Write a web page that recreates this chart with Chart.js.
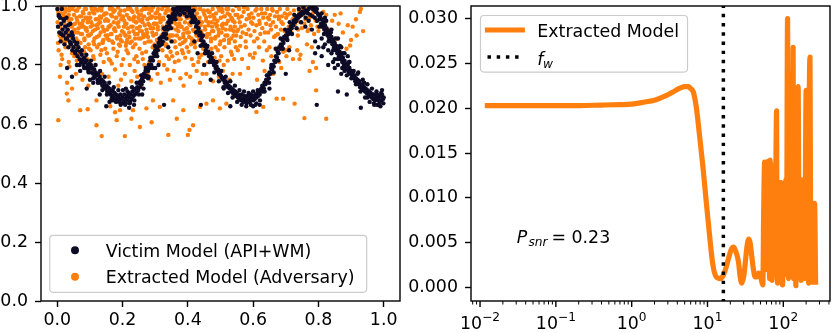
<!DOCTYPE html>
<html>
<head>
<meta charset="utf-8">
<script src="https://cdn.jsdelivr.net/npm/chart.js@4.4.1/dist/chart.umd.min.js"></script>
<style>
  html, body { margin: 0; padding: 0; background: #fff; }
  #wrap { position: relative; width: 831px; height: 333px; overflow: hidden; }
  #left { position: absolute; left: 0; top: 0; }
  #right { position: absolute; left: 400px; top: 0; }
</style>
</head>
<body>
<div id="wrap">
  <canvas id="left" width="420" height="333"></canvas>
  <canvas id="right" width="431" height="333"></canvas>
</div>
<script>
// left panel: scatter of model outputs
const victimPoints = [
  [0,0.99],[0.002,0.93],[0.004,0.97],[0.006,0.91],[0.008,0.96],[0.01,0.88],[0.012,0.94],[0.014,0.99],[0.016,0.92],[0.018,0.9],
  [0.02,0.95],[0.022,0.87],[0.024,0.93],[0.026,0.91],[0.028,0.96],[0.03,0.89],[0.032,0.92],[0.034,0.86],[0.036,0.9],[0.038,0.88],
  [0.04,0.94],[0.042,0.87],[0.044,0.91],[0.046,0.85],[0.048,0.89],[0.05,0.86],[0.052,0.88],[0.055,0.84],[0.058,0.87],[0.06,0.85],
  [0.062,0.83],[0.065,0.86],[0.068,0.82],[0.07,0.845],[0.073,0.81],[0.075,0.835],[0.078,0.82],[0.08,0.8],[0.083,0.825],[0.085,0.81],
  [0.088,0.79],[0.09,0.815],[0.093,0.8],[0.095,0.78],[0.098,0.805],[0.03,0.79],[0.045,0.76],[0.07,0.78],[0.09,0.72],[0.1,0.75],[0.06,0.8],
  [0.1,0.79],[0.103,0.8],[0.105,0.775],[0.108,0.79],[0.11,0.77],[0.113,0.785],[0.115,0.76],[0.118,0.775],[0.12,0.765],[0.123,0.75],
  [0.125,0.77],[0.128,0.745],[0.13,0.76],[0.133,0.74],[0.135,0.75],[0.138,0.73],[0.14,0.745],[0.143,0.725],[0.145,0.74],[0.148,0.72],
  [0.15,0.73],[0.153,0.71],[0.155,0.725],[0.158,0.705],[0.16,0.72],[0.163,0.7],[0.165,0.71],[0.168,0.695],[0.17,0.715],[0.173,0.69],
  [0.175,0.705],[0.178,0.685],[0.18,0.7],[0.183,0.68],[0.185,0.695],[0.188,0.69],[0.19,0.675],[0.193,0.7],[0.195,0.685],[0.198,0.67],
  [0.15,0.66],[0.17,0.68],[0.13,0.7],[0.11,0.74],[0.16,0.675],
  [0.2,0.69],[0.203,0.675],[0.205,0.7],[0.208,0.685],[0.21,0.67],[0.213,0.695],[0.215,0.68],[0.218,0.705],[0.22,0.69],[0.223,0.675],
  [0.225,0.7],[0.228,0.685],[0.23,0.71],[0.233,0.695],[0.235,0.715],[0.238,0.7],[0.24,0.72],[0.243,0.705],[0.245,0.725],[0.248,0.715],
  [0.25,0.74],[0.253,0.725],[0.255,0.745],[0.258,0.735],[0.26,0.755],[0.263,0.745],[0.265,0.77],[0.268,0.76],[0.27,0.78],[0.273,0.765],
  [0.275,0.79],[0.278,0.78],[0.28,0.8],[0.283,0.79],[0.285,0.815],[0.288,0.8],[0.29,0.825],[0.293,0.815],[0.295,0.84],[0.298,0.83],
  [0.22,0.655],[0.235,0.665],[0.26,0.7],[0.21,0.72],[0.28,0.76],
  [0.3,0.85],[0.303,0.84],[0.305,0.86],[0.308,0.85],[0.31,0.875],[0.313,0.865],[0.315,0.885],[0.318,0.87],[0.32,0.895],[0.323,0.88],
  [0.325,0.905],[0.328,0.895],[0.33,0.92],[0.333,0.905],[0.335,0.93],[0.338,0.92],[0.34,0.945],[0.343,0.935],[0.345,0.955],[0.348,0.945],
  [0.35,0.965],[0.353,0.955],[0.355,0.975],[0.358,0.965],[0.36,0.985],[0.363,0.97],[0.365,0.99],[0.368,0.98],[0.37,0.995],[0.373,0.985],
  [0.375,1.0],[0.378,0.99],[0.38,0.995],[0.385,1.0],[0.39,0.99],[0.395,0.995],
  [0.327,0.665],[0.31,0.8],[0.35,0.88],[0.3,0.79],[0.34,0.86],
  [0.4,0.985],[0.403,0.995],[0.405,0.975],[0.408,0.985],[0.41,0.965],[0.413,0.975],[0.415,0.955],[0.418,0.965],[0.42,0.945],[0.423,0.955],
  [0.425,0.93],[0.428,0.94],[0.43,0.915],[0.433,0.925],[0.435,0.9],[0.438,0.91],[0.44,0.885],[0.443,0.895],[0.445,0.87],[0.448,0.88],
  [0.45,0.865],[0.453,0.87],[0.455,0.85],[0.458,0.86],[0.46,0.84],[0.463,0.845],[0.465,0.83],[0.468,0.835],[0.47,0.82],[0.473,0.825],
  [0.475,0.81],[0.478,0.815],[0.48,0.8],[0.483,0.805],[0.485,0.79],[0.488,0.795],[0.49,0.78],[0.493,0.785],[0.495,0.77],[0.498,0.775],
  [0.44,0.665],[0.45,0.8],[0.42,0.88],[0.47,0.75],[0.43,0.84],
  [0.5,0.765],[0.503,0.76],[0.505,0.755],[0.508,0.75],[0.51,0.755],[0.513,0.74],[0.515,0.745],[0.518,0.73],[0.52,0.74],[0.523,0.725],
  [0.525,0.73],[0.528,0.72],[0.53,0.725],[0.533,0.71],[0.535,0.72],[0.538,0.705],[0.54,0.715],[0.543,0.7],[0.545,0.71],[0.548,0.695],
  [0.55,0.705],[0.553,0.69],[0.555,0.7],[0.558,0.685],[0.56,0.695],[0.563,0.68],[0.565,0.7],[0.568,0.685],[0.57,0.675],[0.573,0.695],
  [0.575,0.68],[0.578,0.69],[0.58,0.67],[0.583,0.695],[0.585,0.68],[0.588,0.69],[0.59,0.675],[0.593,0.7],[0.595,0.685],[0.598,0.69],
  [0.53,0.66],[0.51,0.72],
  [0.6,0.68],[0.603,0.695],[0.605,0.685],[0.608,0.7],[0.61,0.69],[0.613,0.705],[0.615,0.695],[0.618,0.71],[0.62,0.7],[0.623,0.715],
  [0.625,0.72],[0.628,0.71],[0.63,0.73],[0.633,0.72],[0.635,0.74],[0.638,0.735],[0.64,0.75],[0.643,0.745],[0.645,0.765],[0.648,0.755],
  [0.65,0.775],[0.653,0.77],[0.655,0.79],[0.658,0.785],[0.66,0.8],[0.663,0.795],[0.665,0.815],[0.668,0.81],[0.67,0.83],[0.673,0.825],
  [0.675,0.845],[0.678,0.84],[0.68,0.86],[0.683,0.855],[0.685,0.87],[0.688,0.865],[0.69,0.885],[0.693,0.875],[0.695,0.895],[0.698,0.89],
  [0.62,0.665],[0.6,0.66],[0.61,0.67],[0.65,0.72],[0.7,0.77],
  [0.7,0.9],[0.703,0.895],[0.705,0.91],[0.708,0.905],[0.71,0.92],[0.713,0.915],[0.715,0.93],[0.718,0.925],[0.72,0.94],[0.723,0.935],
  [0.725,0.95],[0.728,0.945],[0.73,0.955],[0.733,0.95],[0.735,0.965],[0.738,0.96],[0.74,0.97],[0.743,0.965],[0.745,0.975],[0.748,0.97],
  [0.75,0.98],[0.755,0.975],[0.76,0.985],[0.765,0.98],[0.77,0.99],[0.775,0.995],[0.78,1.0],[0.783,0.99],[0.785,1.0],[0.788,0.985],
  [0.79,0.995],[0.793,0.98],[0.795,0.99],[0.798,0.975],
  [0.71,0.85],[0.76,0.93],[0.78,0.92],[0.79,0.88],[0.77,0.95],[0.795,0.665],[0.79,0.84],[0.8,0.86],
  [0.8,0.97],[0.803,0.955],[0.805,0.965],[0.808,0.94],[0.81,0.955],[0.813,0.93],[0.815,0.945],[0.818,0.92],[0.82,0.935],[0.823,0.91],
  [0.825,0.925],[0.828,0.9],[0.83,0.915],[0.833,0.89],[0.835,0.905],[0.838,0.88],[0.84,0.895],[0.843,0.87],[0.845,0.885],[0.848,0.86],
  [0.85,0.875],[0.853,0.85],[0.855,0.865],[0.858,0.84],[0.86,0.855],[0.863,0.83],[0.865,0.845],[0.868,0.82],[0.87,0.835],[0.873,0.81],
  [0.875,0.825],[0.878,0.8],[0.88,0.815],[0.883,0.79],[0.885,0.805],[0.888,0.785],[0.89,0.8],[0.893,0.775],[0.895,0.79],[0.898,0.77],
  [0.81,0.89],[0.82,0.87],[0.83,0.85],[0.84,0.84],[0.85,0.82],[0.86,0.8],[0.87,0.86],[0.88,0.78],[0.89,0.83],[0.82,0.96],
  [0.84,0.92],[0.86,0.89],[0.83,0.8],[0.81,0.83],[0.85,0.79],[0.87,0.77],[0.815,0.86],[0.845,0.81],[0.875,0.84],[0.895,0.81],
  [0.86,0.71],[0.887,0.7],
  [0.9,0.78],[0.903,0.765],[0.905,0.775],[0.908,0.755],[0.91,0.765],[0.913,0.745],[0.915,0.755],[0.918,0.74],[0.92,0.75],[0.923,0.735],
  [0.925,0.745],[0.928,0.725],[0.93,0.735],[0.933,0.72],[0.935,0.73],[0.938,0.715],[0.94,0.725],[0.943,0.71],[0.945,0.72],[0.948,0.705],
  [0.95,0.715],[0.953,0.7],[0.955,0.71],[0.958,0.695],[0.96,0.705],[0.963,0.69],[0.965,0.7],[0.968,0.685],[0.97,0.7],[0.973,0.68],
  [0.975,0.695],[0.978,0.685],[0.98,0.7],[0.983,0.68],[0.985,0.69],[0.988,0.675],[0.99,0.695],[0.993,0.68],[0.995,0.7],[0.998,0.685],
  [1.0,0.69],[0.93,0.655],[0.98,0.665],[0.99,0.66],[0.97,0.67],[0.95,0.69],[0.995,0.715],[0.92,0.77],[0.94,0.74],
  // looser band around the curve
  [0.005,0.965],[0.012,0.905],[0.019,0.955],[0.026,0.89],[0.033,0.935],[0.04,0.875],[0.047,0.9],[0.054,0.845],[0.061,0.875],[0.068,0.8],
  [0.075,0.85],[0.082,0.79],[0.089,0.835],[0.096,0.775],[0.103,0.815],[0.11,0.755],[0.117,0.8],[0.124,0.74],[0.131,0.78],[0.138,0.715],
  [0.145,0.76],[0.152,0.7],[0.159,0.74],[0.166,0.685],[0.173,0.725],[0.18,0.675],[0.187,0.715],[0.194,0.665],[0.201,0.715],[0.208,0.665],
  [0.215,0.71],[0.222,0.67],[0.229,0.725],[0.236,0.68],[0.243,0.74],[0.25,0.7],[0.257,0.765],[0.264,0.72],[0.271,0.79],[0.278,0.755],
  [0.285,0.825],[0.292,0.79],[0.299,0.865],[0.306,0.83],[0.313,0.89],[0.32,0.87],[0.327,0.925],[0.334,0.89],[0.341,0.965],[0.348,0.925],
  [0.355,0.99],[0.362,0.955],[0.369,0.995],[0.376,0.97],[0.383,0.98],[0.39,0.975],[0.397,0.965],[0.404,0.995],[0.411,0.945],[0.418,0.985],
  [0.425,0.91],[0.432,0.945],[0.439,0.865],[0.446,0.9],[0.453,0.84],[0.46,0.865],[0.467,0.81],[0.474,0.84],[0.481,0.775],[0.488,0.81],
  [0.495,0.745],[0.502,0.78],[0.509,0.725],[0.516,0.76],[0.523,0.705],[0.53,0.745],[0.537,0.69],[0.544,0.73],[0.551,0.675],[0.558,0.715],
  [0.565,0.665],[0.572,0.71],[0.579,0.66],[0.586,0.705],[0.593,0.665],[0.6,0.71],[0.607,0.665],[0.614,0.715],[0.621,0.68],[0.628,0.73],
  [0.635,0.71],[0.642,0.765],[0.649,0.74],[0.656,0.8],[0.663,0.775],[0.67,0.855],[0.677,0.815],[0.684,0.89],[0.691,0.855],[0.698,0.92],
  [0.705,0.885],[0.712,0.945],[0.719,0.905],[0.726,0.97],[0.733,0.925],[0.74,0.99],[0.747,0.945],[0.754,0.995],[0.761,0.96],[0.768,0.975],
  [0.775,0.97],[0.782,0.965],[0.789,0.96],[0.796,0.95],[0.803,0.93],[0.81,0.975],[0.817,0.905],[0.824,0.95],[0.831,0.88],[0.838,0.91],
  [0.845,0.85],[0.852,0.89],[0.859,0.82],[0.866,0.865],[0.873,0.79],[0.88,0.84],[0.887,0.765],[0.894,0.81],[0.901,0.755],[0.908,0.78],
  [0.915,0.735],[0.922,0.775],[0.929,0.71],[0.936,0.75],[0.943,0.69],[0.95,0.735],[0.957,0.675],[0.964,0.72],[0.971,0.665],[0.978,0.71],
  [0.985,0.665],[0.992,0.705],[0.999,0.67]
];

const extractedPoints = [
  [0.003,0.98],[0.006,0.93],[0.009,0.96],[0.011,0.89],[0.014,0.995],[0.016,0.91],[0.019,0.97],[0.021,0.94],[0.024,0.88],[0.026,0.99],
  [0.029,0.92],[0.031,0.965],[0.033,0.9],[0.036,0.985],[0.038,0.935],[0.041,0.875],[0.043,0.955],[0.046,0.99],[0.048,0.915],[0.001,0.945],
  [0.012,0.975],[0.022,0.905],[0.034,0.95],[0.044,0.93],[0.018,0.88],[0.027,0.96],[0.039,0.995],[0.007,0.9],
  [0.004,0.85],[0.015,0.82],[0.025,0.86],[0.035,0.81],[0.045,0.84],[0.01,0.8],[0.04,0.865],[0.008,0.76],[0.03,0.74],[0.045,0.72],
  [0.029,0.703],[0.003,0.613],[0.034,0.68],
  [0.051,0.97],[0.053,0.92],[0.056,0.985],[0.058,0.89],[0.061,0.95],[0.063,0.91],[0.066,0.995],[0.068,0.94],[0.071,0.875],[0.073,0.965],
  [0.076,0.905],[0.078,0.98],[0.081,0.93],[0.083,0.885],[0.086,0.96],[0.088,0.99],[0.091,0.915],[0.093,0.945],[0.096,0.87],[0.098,0.975],
  [0.054,0.94],[0.064,0.88],[0.074,0.93],[0.084,0.99],[0.094,0.9],[0.059,0.96],[0.079,0.95],[0.089,0.925],
  [0.052,0.83],[0.062,0.86],[0.072,0.81],[0.082,0.845],[0.092,0.82],[0.097,0.855],[0.067,0.84],[0.057,0.77],[0.077,0.75],[0.087,0.79],
  [0.095,0.73],[0.07,0.647],[0.093,0.65],
  [0.101,0.96],[0.103,0.905],[0.106,0.99],[0.108,0.935],[0.111,0.88],[0.113,0.975],[0.116,0.92],[0.118,0.955],[0.121,0.895],[0.123,0.985],
  [0.126,0.94],[0.128,0.87],[0.131,0.965],[0.133,0.91],[0.136,0.995],[0.138,0.93],[0.141,0.885],[0.143,0.97],[0.146,0.95],[0.148,0.9],
  [0.104,0.945],[0.114,0.89],[0.124,0.925],[0.134,0.96],[0.144,0.915],[0.109,0.98],[0.129,0.99],[0.139,0.875],
  [0.102,0.85],[0.112,0.82],[0.122,0.86],[0.132,0.835],[0.142,0.81],[0.147,0.855],[0.117,0.8],[0.107,0.78],[0.127,0.74],[0.137,0.77],
  [0.145,0.72],[0.12,0.596],[0.136,0.559],[0.12,0.68],
  [0.151,0.975],[0.153,0.92],[0.156,0.95],[0.158,0.885],[0.161,0.99],[0.163,0.935],[0.166,0.905],[0.168,0.965],[0.171,0.875],[0.173,0.945],
  [0.176,0.985],[0.178,0.915],[0.181,0.96],[0.183,0.89],[0.186,0.995],[0.188,0.93],[0.191,0.97],[0.193,0.9],[0.196,0.955],[0.198,0.88],
  [0.154,0.9],[0.164,0.97],[0.174,0.92],[0.184,0.94],[0.194,0.985],[0.159,0.93],[0.169,0.99],[0.189,0.87],
  [0.152,0.84],[0.162,0.815],[0.172,0.855],[0.182,0.83],[0.192,0.865],[0.197,0.8],[0.167,0.805],[0.157,0.76],[0.177,0.785],[0.187,0.73],
  [0.195,0.75],[0.162,0.66],[0.177,0.64],[0.182,0.613],[0.192,0.647],
  [0.201,0.96],[0.203,0.91],[0.206,0.985],[0.208,0.94],[0.211,0.875],[0.213,0.97],[0.216,0.925],[0.218,0.995],[0.221,0.895],[0.223,0.955],
  [0.226,0.93],[0.228,0.88],[0.231,0.98],[0.233,0.915],[0.236,0.965],[0.238,0.89],[0.241,0.945],[0.243,0.99],[0.246,0.905],[0.248,0.96],
  [0.204,0.93],[0.214,0.885],[0.224,0.99],[0.234,0.95],[0.244,0.925],[0.209,0.9],[0.219,0.96],[0.239,0.87],
  [0.202,0.82],[0.212,0.85],[0.222,0.8],[0.232,0.86],[0.242,0.83],[0.247,0.81],[0.217,0.84],[0.207,0.77],[0.227,0.745],[0.237,0.78],
  [0.245,0.76],[0.207,0.559],[0.227,0.618],[0.232,0.647],
  [0.251,0.97],[0.253,0.93],[0.256,0.89],[0.258,0.985],[0.261,0.945],[0.263,0.905],[0.266,0.965],[0.268,0.875],[0.271,0.99],[0.273,0.92],
  [0.276,0.955],[0.278,0.895],[0.281,0.975],[0.283,0.935],[0.286,0.88],[0.288,0.96],[0.291,0.91],[0.293,0.995],[0.296,0.94],[0.298,0.87],
  [0.254,0.95],[0.264,0.99],[0.274,0.9],[0.284,0.96],[0.294,0.925],[0.259,0.915],[0.279,0.94],[0.289,0.985],
  [0.252,0.855],[0.262,0.82],[0.272,0.845],[0.282,0.81],[0.292,0.86],[0.297,0.83],[0.267,0.8],[0.257,0.73],[0.277,0.77],[0.287,0.75],
  [0.295,0.79],[0.253,0.59],[0.273,0.653],[0.289,0.606],[0.293,0.68],
  [0.301,0.96],[0.303,0.905],[0.306,0.98],[0.308,0.93],[0.311,0.885],[0.313,0.97],[0.316,0.945],[0.318,0.895],[0.321,0.99],[0.323,0.92],
  [0.326,0.955],[0.328,0.875],[0.331,0.975],[0.333,0.91],[0.336,0.94],[0.338,0.995],[0.341,0.89],[0.343,0.965],[0.346,0.925],[0.348,0.985],
  [0.304,0.94],[0.314,0.87],[0.324,0.96],[0.334,0.985],[0.344,0.9],[0.309,0.99],[0.319,0.955],[0.339,0.935],
  [0.302,0.84],[0.312,0.81],[0.322,0.85],[0.332,0.865],[0.342,0.82],[0.347,0.845],[0.327,0.8],[0.307,0.77],[0.317,0.74],[0.337,0.785],
  [0.345,0.75],[0.314,0.658],[0.34,0.563],
  [0.351,0.975],[0.353,0.925],[0.356,0.95],[0.358,0.88],[0.361,0.99],[0.363,0.94],[0.366,0.9],[0.368,0.965],[0.371,0.915],[0.373,0.985],
  [0.376,0.87],[0.378,0.955],[0.381,0.93],[0.383,0.995],[0.386,0.895],[0.388,0.97],[0.391,0.945],[0.393,0.885],[0.396,0.96],[0.398,0.91],
  [0.354,0.9],[0.364,0.98],[0.374,0.94],[0.384,0.875],[0.394,0.99],[0.359,0.96],[0.369,0.93],[0.389,0.92],
  [0.352,0.83],[0.362,0.86],[0.372,0.815],[0.382,0.85],[0.392,0.825],[0.397,0.86],[0.367,0.84],[0.357,0.78],[0.377,0.755],[0.387,0.73],
  [0.395,0.77],[0.355,0.68],[0.366,0.618],[0.386,0.647],[0.4,0.563],
  [0.401,0.965],[0.403,0.91],[0.406,0.985],[0.408,0.935],[0.411,0.89],[0.413,0.96],[0.416,0.92],[0.418,0.995],[0.421,0.875],[0.423,0.95],
  [0.426,0.9],[0.428,0.975],[0.431,0.93],[0.433,0.885],[0.436,0.96],[0.438,0.99],[0.441,0.915],[0.443,0.945],[0.446,0.87],[0.448,0.98],
  [0.404,0.94],[0.414,0.88],[0.424,0.99],[0.434,0.95],[0.444,0.9],[0.409,0.97],[0.429,0.905],[0.439,0.935],
  [0.402,0.845],[0.412,0.82],[0.422,0.86],[0.432,0.81],[0.442,0.835],[0.447,0.855],[0.417,0.8],[0.407,0.76],[0.427,0.78],[0.437,0.74],
  [0.445,0.77],[0.405,0.58],[0.416,0.596],[0.437,0.658],
  [0.451,0.97],[0.453,0.92],[0.456,0.95],[0.458,0.895],[0.461,0.985],[0.463,0.935],[0.466,0.905],[0.468,0.965],[0.471,0.88],[0.473,0.945],
  [0.476,0.99],[0.478,0.915],[0.481,0.96],[0.483,0.89],[0.486,0.975],[0.488,0.93],[0.491,0.95],[0.493,0.9],[0.496,0.985],[0.498,0.87],
  [0.454,0.9],[0.464,0.98],[0.474,0.93],[0.484,0.94],[0.494,0.92],
  [0.452,0.84],[0.462,0.81],[0.472,0.855],[0.482,0.825],[0.492,0.85],[0.497,0.815],[0.457,0.77],[0.477,0.745],[0.487,0.79],[0.495,0.76],
  [0.457,0.669],[0.477,0.68],[0.498,0.653],
  [0.501,0.96],[0.503,0.91],[0.506,0.98],[0.508,0.94],[0.511,0.885],[0.513,0.965],[0.516,0.92],[0.518,0.99],[0.521,0.9],[0.523,0.95],
  [0.526,0.875],[0.528,0.97],[0.531,0.93],[0.533,0.89],[0.536,0.955],[0.538,0.985],[0.541,0.915],[0.543,0.945],[0.546,0.97],[0.548,0.9],
  [0.504,0.935],[0.524,0.99],[0.534,0.92],[0.544,0.88],
  [0.502,0.83],[0.512,0.86],[0.522,0.815],[0.532,0.845],[0.542,0.82],[0.547,0.86],[0.507,0.78],[0.527,0.75],[0.537,0.77],
  [0.518,0.669],[0.539,0.692],
  [0.551,0.97],[0.554,0.92],[0.557,0.99],[0.559,0.945],[0.562,0.895],[0.565,0.965],[0.568,0.91],[0.571,0.98],[0.574,0.935],[0.577,0.88],
  [0.58,0.955],[0.583,0.99],[0.586,0.92],[0.589,0.96],[0.592,0.9],[0.595,0.975],[0.598,0.94],
  [0.553,0.85],[0.566,0.82],[0.578,0.86],[0.59,0.835],[0.56,0.77],[0.585,0.79],[0.57,0.68],
  [0.601,0.96],[0.604,0.915],[0.607,0.985],[0.61,0.935],[0.613,0.89],[0.616,0.97],[0.619,0.95],[0.622,0.905],[0.625,0.99],[0.628,0.925],
  [0.631,0.96],[0.634,0.88],[0.637,0.975],[0.64,0.94],[0.643,0.99],[0.646,0.91],[0.649,0.955],
  [0.605,0.84],[0.618,0.86],[0.63,0.815],[0.642,0.85],[0.612,0.75],[0.635,0.78],[0.61,0.641],[0.631,0.658],
  [0.652,0.97],[0.655,0.92],[0.658,0.99],[0.661,0.945],[0.664,0.895],[0.667,0.965],[0.67,0.93],[0.673,0.98],[0.676,0.905],[0.679,0.955],
  [0.682,0.99],[0.685,0.92],[0.688,0.965],[0.691,0.94],[0.694,0.885],[0.697,0.975],
  [0.656,0.83],[0.668,0.855],[0.68,0.81],[0.692,0.845],[0.702,0.83],[0.662,0.77],[0.686,0.79],[0.672,0.686],[0.692,0.686],
  [0.701,0.96],[0.705,0.99],[0.709,0.93],[0.713,0.975],[0.717,0.91],[0.721,0.955],[0.725,0.985],[0.729,0.94],[0.733,0.965],[0.737,0.9],
  [0.741,0.98],[0.745,0.945],[0.749,0.925],[0.722,0.82],[0.742,0.82],[0.711,0.86],[0.735,0.85],[0.727,0.669],
  [0.752,0.97],[0.757,0.94],[0.762,0.99],[0.767,0.915],[0.772,0.96],[0.777,0.935],[0.782,0.975],[0.787,0.905],[0.792,0.95],[0.797,0.93],
  [0.773,0.78],[0.783,0.81],[0.793,0.79],[0.765,0.87],[0.757,0.62],[0.793,0.714],
  [0.804,0.96],[0.81,0.93],[0.815,0.98],[0.824,0.97],[0.835,0.92],[0.842,0.95],[0.856,0.889],[0.862,0.94],[0.875,0.91],[0.886,0.855],
  [0.897,0.866],[0.905,0.93],[0.917,0.9],[0.927,0.98],[0.937,0.915],[0.93,0.99],[0.85,0.97],[0.824,0.618],
  // extra density in the upper band
  [0.002,0.875],[0.006,0.99],[0.009,0.93],[0.013,0.96],[0.017,0.9],[0.02,0.945],[0.024,0.98],[0.028,0.885],[0.032,0.915],[0.035,0.97],
  [0.039,0.955],[0.043,0.895],[0.046,0.935],[0.05,1.0],[0.054,0.91],[0.057,0.88],[0.061,0.985],[0.065,0.925],[0.069,0.965],[0.072,0.905],
  [0.076,0.94],[0.08,0.975],[0.083,0.89],[0.087,0.92],[0.091,0.96],[0.094,0.95],[0.098,0.9],[0.102,0.93],[0.105,0.995],[0.109,0.915],
  [0.113,0.87],[0.116,0.99],[0.12,0.935],[0.124,0.955],[0.128,0.9],[0.131,0.945],[0.135,0.985],[0.139,0.88],[0.142,0.92],[0.146,0.975],
  [0.15,0.955],[0.153,0.89],[0.157,0.93],[0.161,1.0],[0.164,0.905],[0.168,0.88],[0.172,0.98],[0.175,0.925],[0.179,0.96],[0.183,0.895],
  [0.187,0.945],[0.19,0.975],[0.194,0.885],[0.198,0.915],[0.201,0.965],[0.205,0.95],[0.209,0.9],[0.212,0.94],[0.216,0.99],[0.22,0.91],
  [0.223,0.875],[0.227,0.985],[0.231,0.93],[0.234,0.96],[0.238,0.905],[0.242,0.945],[0.246,0.98],[0.249,0.89],[0.253,0.915],[0.257,0.97],
  [0.26,0.955],[0.264,0.895],[0.268,0.935],[0.271,0.995],[0.275,0.91],[0.279,0.88],[0.282,0.99],[0.286,0.925],[0.29,0.965],[0.294,0.9],
  [0.297,0.94],[0.301,0.975],[0.305,0.885],[0.308,0.92],[0.312,0.96],[0.316,0.95],[0.319,0.9],[0.323,0.93],[0.327,1.0],[0.33,0.915],
  [0.334,0.87],[0.338,0.985],[0.342,0.935],[0.345,0.955],[0.349,0.9],[0.353,0.945],[0.356,0.98],[0.36,0.88],[0.364,0.92],[0.367,0.975],
  [0.371,0.955],[0.375,0.89],[0.378,0.93],[0.382,0.99],[0.386,0.905],[0.39,0.88],[0.393,0.98],[0.397,0.925],[0.401,0.96],[0.404,0.895],
  [0.408,0.945],[0.412,0.975],[0.415,0.885],[0.419,0.915],[0.423,0.965],[0.426,0.95],[0.43,0.9],[0.434,0.94],[0.437,0.99],[0.441,0.91],
  [0.445,0.875],[0.449,0.985],[0.452,0.93],[0.456,0.96],[0.46,0.905],[0.463,0.945],[0.467,0.98],[0.471,0.89],[0.474,0.915],[0.478,0.97],
  [0.482,0.955],[0.485,0.895],[0.489,0.935],[0.493,0.995],[0.496,0.91],[0.5,0.88],[0.504,0.99],[0.507,0.925],[0.511,0.965],[0.515,0.9],
  [0.518,0.94],[0.522,0.975],[0.526,0.885],[0.529,0.92],[0.533,0.96],[0.537,0.95],[0.54,0.9],[0.544,0.93],[0.548,1.0],[0.551,0.915],
  [0.556,0.96],[0.563,0.93],[0.572,0.995],[0.579,0.905],[0.587,0.97],[0.594,0.945],[0.603,0.88],[0.611,0.99],[0.62,0.94],[0.627,0.975],
  [0.636,0.91],[0.645,0.96],[0.653,0.935],[0.66,0.985],[0.669,0.9],[0.678,0.965],[0.687,0.945],[0.696,0.915],[0.706,0.97],[0.716,0.935],
  [0.727,0.96],[0.738,0.92],[0.748,0.99],[0.76,0.955],[0.771,0.92],[0.784,0.99],[0.8,0.915],[0.82,0.945],[0.868,0.975],[0.89,0.935],
  [0.915,0.955],
  [0.013,0.835],[0.037,0.795],[0.06,0.815],[0.085,0.86],[0.11,0.83],[0.135,0.85],[0.158,0.82],[0.185,0.845],[0.21,0.865],[0.236,0.82],
  [0.26,0.84],[0.285,0.79],[0.31,0.855],[0.335,0.83],[0.36,0.81],[0.385,0.84],[0.41,0.87],[0.435,0.825],[0.46,0.845],[0.485,0.86],
  [0.51,0.8],[0.535,0.835],[0.56,0.865],[0.6,0.825],[0.65,0.86],[0.7,0.85],[0.745,0.835],[0.78,0.86],[0.84,0.88],[0.9,0.885]
];

const leftXTicks = [0, 0.2, 0.4, 0.6, 0.8, 1.0];
const leftYTicks = [0, 0.2, 0.4, 0.6, 0.8, 1.0];
const victimLabel = 'Victim Model (API+WM)';
const extractedLabel = 'Extracted Model (Adversary)';

// right panel: spectrum of the extracted model
const freq = [
  0.0125, 0.02, 0.05, 0.1, 0.2, 0.4, 0.7, 1.0, 1.5, 2.0, 2.5, 3.0, 3.5, 4.0, 4.5, 5.0, 5.6, 6.0, 6.5, 7.1,
  7.8, 8.7, 9.6, 10.6, 11.7, 13.0, 14.7, 16.0, 17.1, 19.0, 20.5, 22.0, 23.5, 25.6, 27.0, 28.3, 30.0, 31.3, 33.0, 35.0,
  36.5, 38.5, 40.4, 42.5, 44.7, 47.0, 49.4, 51.5, 53.7,
  55.2, 56.7, 58.4, 60.2, 62.1, 63.5, 65.0, 66.0, 67.0, 68.0, 69.0, 70.6, 72.3, 73.9, 75.6, 77.5, 79.5, 81.6, 82.8, 84.1,
  86.0, 88.0, 89.4, 90.8, 93.5, 96.4, 97.9, 100.2, 102.5, 104.0, 105.6, 108.0, 110.0, 113.9, 115.7, 117.5, 119.3, 121.1, 123.0, 124.8,
  127.7, 130.6, 132.6, 134.7, 136.7, 138.8, 140.9, 143.1, 146.4, 149.8, 157.0, 161.6, 164.1, 166.6, 169.1, 171.7, 174.3, 178.3, 182.5, 185.3,
  188.1, 193.0, 199.9, 203.0, 206.1, 209.2, 212.4, 215.7, 219.0, 225.0, 229.2, 232.7, 236.3, 241.7, 247.3, 251.0, 254.9, 258.8, 266.7
];
const power = [
  0.0203, 0.0203, 0.0203, 0.0203, 0.0203, 0.02035, 0.0204, 0.02045, 0.0207, 0.0209, 0.0212, 0.0215, 0.0218, 0.0221, 0.0223, 0.0224, 0.0224, 0.0222, 0.0218, 0.0202,
  0.0172, 0.0135, 0.0097, 0.006, 0.0027, 0.0012, 0.001, 0.0013, 0.0019, 0.0033, 0.0042, 0.0045, 0.0041, 0.0029, 0.0012, 0.0005, 0.0012, 0.0025, 0.0044, 0.0054,
  0.005, 0.0034, 0.002, 0.0012, 0.0012, 0.0016, 0.0015, 0.0008, 0.0003,
  0.009, 0.014, 0.002, 0.0138, 0.006, 0.0141, 0.0072, 0.001, 0.0142, 0.0045, 0.0138, 0.0008, 0.0085, 0.0023, 0.011, 0.0015, 0.012, 0.0197, 0.003, 0.0005,
  0.01, 0.003, 0.0117, 0.004, 0.0117, 0.0008, 0.0003, 0.008, 0.0015, 0.0095, 0.0015, 0.012, 0.002, 0.03, 0.006, 0.001, 0.024, 0.012, 0.0015, 0.0038,
  0.015, 0.014, 0.003, 0.0268, 0.001, 0.013, 0.002, 0.015, 0.0002, 0.011, 0.0224, 0.004, 0.0104, 0.001, 0.0104, 0.0008, 0.012, 0.003, 0.012, 0.001,
  0.009, 0.006, 0.022, 0.001, 0.015, 0.0012, 0.015, 0.0005, 0.018, 0.0257, 0.006, 0.002, 0.008, 0.0006, 0.0094, 0.003, 0.0006, 0.0094, 0.0006
];
const watermarkFreq = 16.2;
const rightXMajor = [0.01, 0.1, 1, 10, 100];
const rightXExp = ['\u22122', '\u22121', '0', '1', '2'];
const rightYTicks = [0, 0.005, 0.01, 0.015, 0.02, 0.025, 0.03];
const spectrumLabel = 'Extracted Model';
const snrText = '= 0.23';

const ORANGE = '#ff7f0e';
const DARK = '#0d0b26';
const FONT = 'DejaVu Sans';
const FS = 17.4;

Chart.defaults.font.family = FONT;
Chart.defaults.font.size = FS;
Chart.defaults.color = '#000';

const frame = {
  id: 'frame',
  afterDatasetsDraw(chart) {
    const { ctx, chartArea: a } = chart;
    ctx.save();
    ctx.strokeStyle = '#000';
    ctx.lineWidth = 1.4;
    ctx.strokeRect(a.left, a.top, a.right - a.left, a.bottom - a.top);
    ctx.restore();
  }
};

function legendBox(ctx, x, y, w, h) {
  const r = 3.5;
  ctx.beginPath();
  ctx.moveTo(x + r, y);
  ctx.arcTo(x + w, y, x + w, y + h, r);
  ctx.arcTo(x + w, y + h, x, y + h, r);
  ctx.arcTo(x, y + h, x, y, r);
  ctx.arcTo(x, y, x + w, y, r);
  ctx.closePath();
  ctx.fillStyle = 'rgba(255,255,255,0.8)';
  ctx.fill();
  ctx.strokeStyle = '#cccccc';
  ctx.lineWidth = 1.2;
  ctx.stroke();
}

const leftLegend = {
  id: 'leftLegend',
  afterDraw(chart) {
    const { ctx, chartArea: a } = chart;
    const x0 = a.left + 8.7, y0 = a.bottom - 8.7 - 57;
    ctx.save();
    legendBox(ctx, x0, y0, 317, 57);
    const rows = [[DARK, victimLabel], [ORANGE, extractedLabel]];
    rows.forEach(([c, t], i) => {
      const cy = y0 + 15 + i * 26.5;
      ctx.beginPath();
      ctx.arc(x0 + 25.3, cy, 4, 0, Math.PI * 2);
      ctx.fillStyle = c;
      ctx.fill();
      ctx.fillStyle = '#000';
      ctx.font = `${FS}px "${FONT}"`;
      ctx.textBaseline = 'alphabetic';
      ctx.fillText(t, x0 + 56, cy + 6.3);
    });
    ctx.restore();
  }
};

const rightDecor = {
  id: 'rightDecor',
  afterDraw(chart) {
    const { ctx, chartArea: a } = chart;
    const xs = chart.scales.x;
    ctx.save();
    // log axis ticks, major and minor
    ctx.strokeStyle = '#000';
    for (let e = -3; e <= 2; e++) {
      for (let m = 1; m <= 9; m++) {
        const v = m * Math.pow(10, e);
        const px = xs.getPixelForValue(v);
        if (px < a.left - 0.5 || px > a.right + 0.5) continue;
        const major = m === 1;
        ctx.lineWidth = major ? 1.4 : 1.0;
        ctx.beginPath();
        ctx.moveTo(px, a.bottom);
        ctx.lineTo(px, a.bottom + (major ? 6 : 3.5));
        ctx.stroke();
      }
    }
    // tick labels as 10 with a raised exponent
    ctx.fillStyle = '#000';
    ctx.textBaseline = 'alphabetic';
    rightXMajor.forEach((v, i) => {
      const px = xs.getPixelForValue(v);
      ctx.font = `${FS}px "${FONT}"`;
      const w1 = ctx.measureText('10').width;
      ctx.font = `${FS * 0.7}px "${FONT}"`;
      const w2 = ctx.measureText(rightXExp[i]).width;
      const x = px - (w1 + w2) / 2;
      ctx.font = `${FS}px "${FONT}"`;
      ctx.fillText('10', x, a.bottom + 27.5);
      ctx.font = `${FS * 0.7}px "${FONT}"`;
      ctx.fillText(rightXExp[i], x + w1, a.bottom + 19.5);
    });
    // legend
    const x0 = a.left + 9.5, y0 = a.top + 9.5;
    legendBox(ctx, x0, y0, 207, 56.6);
    ctx.strokeStyle = ORANGE;
    ctx.lineWidth = 5.2;
    ctx.lineCap = 'square';
    ctx.beginPath();
    ctx.moveTo(x0 + 7, y0 + 14.5);
    ctx.lineTo(x0 + 41.8, y0 + 14.5);
    ctx.stroke();
    ctx.strokeStyle = '#000';
    ctx.lineWidth = 3.47;
    ctx.lineCap = 'butt';
    ctx.setLineDash([3.47, 5.73]);
    ctx.beginPath();
    ctx.moveTo(x0 + 7, y0 + 41.5);
    ctx.lineTo(x0 + 41.8, y0 + 41.5);
    ctx.stroke();
    ctx.setLineDash([]);
    ctx.fillStyle = '#000';
    ctx.font = `${FS}px "${FONT}"`;
    ctx.fillText(spectrumLabel, x0 + 56.8, y0 + 21.2);
    ctx.font = `italic ${FS}px "${FONT}"`;
    ctx.fillText('f', x0 + 56.8, y0 + 49.5);
    ctx.font = `italic ${FS * 0.7}px "${FONT}"`;
    ctx.fillText('w', x0 + 62.6, y0 + 52.8);
    // annotation
    const tx = a.left + 45.7, ty = a.top + 236.7;
    ctx.font = `italic ${FS}px "${FONT}"`;
    ctx.fillText('P', tx, ty);
    ctx.font = `italic ${FS * 0.7}px "${FONT}"`;
    ctx.fillText('snr', tx + 11.8, ty + 3);
    ctx.font = `${FS}px "${FONT}"`;
    ctx.fillText(snrText, tx + 34.7, ty);
    ctx.restore();
  }
};

function fixHeight(h) {
  return s => { s.height = h; s.paddingLeft = 0; s.paddingRight = 0; };
}
function fixWidth(w) {
  return s => { s.width = w; s.paddingTop = 0; s.paddingBottom = 0; };
}
const tickGrid = { drawOnChartArea: false, tickLength: 6, tickWidth: 1.4, tickColor: '#000' };

// first dataset is drawn last, so the dark curve sits on top of the orange cloud
new Chart(document.getElementById('left'), {
  type: 'scatter',
  data: {
    datasets: [
      {
        label: victimLabel,
        data: victimPoints.map(([x, y]) => ({ x, y })),
        pointBackgroundColor: DARK,
        pointBorderWidth: 0,
        pointRadius: 2.2,
        pointHoverRadius: 2.2,
        clip: 0
      },
      {
        label: extractedLabel,
        data: extractedPoints.map(([x, y]) => ({ x, y })),
        pointBackgroundColor: ORANGE,
        pointBorderWidth: 0,
        pointRadius: 2.2,
        pointHoverRadius: 2.2,
        clip: 0
      }
    ]
  },
  options: {
    responsive: false,
    animation: false,
    devicePixelRatio: 1,
    events: [],
    layout: { padding: { left: 0, top: 6, right: 20, bottom: 0 } },
    plugins: { legend: { display: false }, tooltip: { enabled: false } },
    scales: {
      x: {
        type: 'linear', min: -0.05, max: 1.05,
        afterBuildTicks: s => { s.ticks = leftXTicks.map(v => ({ value: v })); },
        afterFit: fixHeight(32),
        ticks: { callback: v => v.toFixed(1), padding: 3, maxRotation: 0, autoSkip: false },
        grid: tickGrid,
        border: { display: false }
      },
      y: {
        type: 'linear', min: 0, max: 1,
        afterBuildTicks: s => { s.ticks = leftYTicks.map(v => ({ value: v })); },
        afterFit: fixWidth(41),
        ticks: { callback: v => v.toFixed(1), padding: 7, autoSkip: false },
        grid: tickGrid,
        border: { display: false }
      }
    }
  },
  plugins: [frame, leftLegend]
});

new Chart(document.getElementById('right'), {
  type: 'line',
  data: {
    datasets: [
      {
        label: 'f_w',
        data: [{ x: watermarkFreq, y: -1 }, { x: watermarkFreq, y: 1 }],
        borderColor: '#000',
        borderWidth: 3.47,
        borderDash: [3.47, 5.73],
        borderCapStyle: 'butt',
        pointRadius: 0,
        clip: 0
      },
      {
        label: spectrumLabel,
        data: freq.map((f, i) => ({ x: f, y: power[i] })),
        borderColor: ORANGE,
        borderWidth: 5.2,
        borderCapStyle: 'square',
        borderJoinStyle: 'round',
        cubicInterpolationMode: 'monotone',
        pointRadius: 0,
        clip: 0
      }
    ]
  },
  options: {
    responsive: false,
    animation: false,
    devicePixelRatio: 1,
    events: [],
    layout: { padding: { left: 0, top: 6, right: 1, bottom: 0 } },
    plugins: { legend: { display: false }, tooltip: { enabled: false } },
    scales: {
      x: {
        type: 'logarithmic', min: 0.0076, max: 413,
        afterBuildTicks: s => { s.ticks = rightXMajor.map(v => ({ value: v })); },
        afterFit: fixHeight(32),
        ticks: { callback: () => '', padding: 3, maxRotation: 0, autoSkip: false },
        grid: { drawOnChartArea: false, tickLength: 6, tickColor: 'rgba(0,0,0,0)' },
        border: { display: false }
      },
      y: {
        type: 'linear', min: -0.0015, max: 0.0314,
        afterBuildTicks: s => { s.ticks = rightYTicks.map(v => ({ value: v })); },
        afterFit: fixWidth(71),
        ticks: { callback: v => v.toFixed(3), padding: 7, autoSkip: false },
        grid: tickGrid,
        border: { display: false }
      }
    }
  },
  plugins: [frame, rightDecor]
});
</script>
</body>
</html>
